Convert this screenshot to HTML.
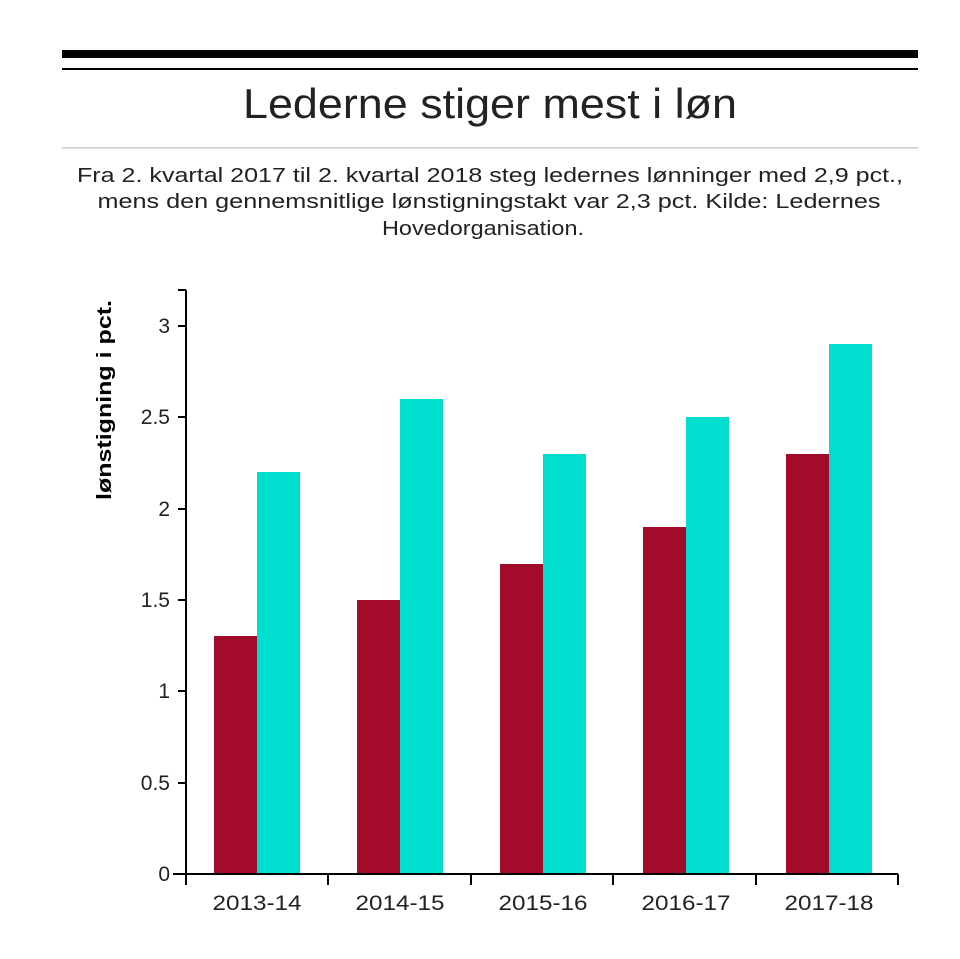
<!DOCTYPE html>
<html><head><meta charset="utf-8"><style>
body{margin:0;background:#fff;width:960px;height:954px;overflow:hidden;font-family:"Liberation Sans",Arial,sans-serif}
</style></head><body>
<svg width="960" height="954" xmlns="http://www.w3.org/2000/svg" font-family="Liberation Sans, Arial, sans-serif">
<rect x="62" y="50" width="856" height="8" fill="#000"/>
<rect x="62" y="68" width="856" height="2" fill="#000"/>
<text x="490" y="118" font-size="42" text-anchor="middle" fill="#222" textLength="494" lengthAdjust="spacingAndGlyphs">Lederne stiger mest i løn</text>
<rect x="62" y="147" width="856" height="1.5" fill="#ccc"/>
<g font-size="20" text-anchor="middle" fill="#222">
<text x="490" y="182" textLength="826" lengthAdjust="spacingAndGlyphs">Fra 2. kvartal 2017 til 2. kvartal 2018 steg ledernes lønninger med 2,9 pct.,</text>
<text x="489" y="208" textLength="783" lengthAdjust="spacingAndGlyphs">mens den gennemsnitlige lønstigningstakt var 2,3 pct. Kilde: Ledernes</text>
<text x="483" y="235" textLength="202" lengthAdjust="spacingAndGlyphs">Hovedorganisation.</text>
</g>
<g fill="#a30b2b">
<rect x="214" y="636" width="43" height="238"/>
<rect x="357" y="600" width="43" height="274"/>
<rect x="500" y="564" width="43" height="310"/>
<rect x="643" y="527" width="43" height="347"/>
<rect x="786" y="454" width="43" height="420"/>
</g>
<g fill="#00ded0">
<rect x="257" y="472" width="43" height="402"/>
<rect x="400" y="399" width="43" height="475"/>
<rect x="543" y="454" width="43" height="420"/>
<rect x="686" y="417" width="43" height="457"/>
<rect x="829" y="344" width="43" height="530"/>
</g>
<g stroke="#000" stroke-width="2" fill="none">
<path d="M186 290V874"/>
<path d="M178 290H186"/>
<path d="M173 874H898"/>
<path d="M178 326H186M178 417H186M178 509H186M178 600H186M178 691H186M178 783H186"/>
<path d="M186 874V885M328 874V885M471 874V885M613 874V885M756 874V885M898 874V885"/>
</g>
<g font-size="21" text-anchor="end" fill="#222">
<text x="170" y="333">3</text>
<text x="170" y="424">2.5</text>
<text x="170" y="516">2</text>
<text x="170" y="607">1.5</text>
<text x="170" y="698">1</text>
<text x="170" y="790">0.5</text>
<text x="170" y="881">0</text>
</g>
<g font-size="21" text-anchor="middle" fill="#222">
<text x="257" y="910" textLength="89" lengthAdjust="spacingAndGlyphs">2013-14</text>
<text x="400" y="910" textLength="89" lengthAdjust="spacingAndGlyphs">2014-15</text>
<text x="543" y="910" textLength="89" lengthAdjust="spacingAndGlyphs">2015-16</text>
<text x="686" y="910" textLength="89" lengthAdjust="spacingAndGlyphs">2016-17</text>
<text x="829" y="910" textLength="89" lengthAdjust="spacingAndGlyphs">2017-18</text>
</g>
<text transform="translate(111,400) rotate(-90)" font-size="20" font-weight="bold" text-anchor="middle" fill="#000" textLength="200" lengthAdjust="spacingAndGlyphs">lønstigning i pct.</text>
</svg>
</body></html>
